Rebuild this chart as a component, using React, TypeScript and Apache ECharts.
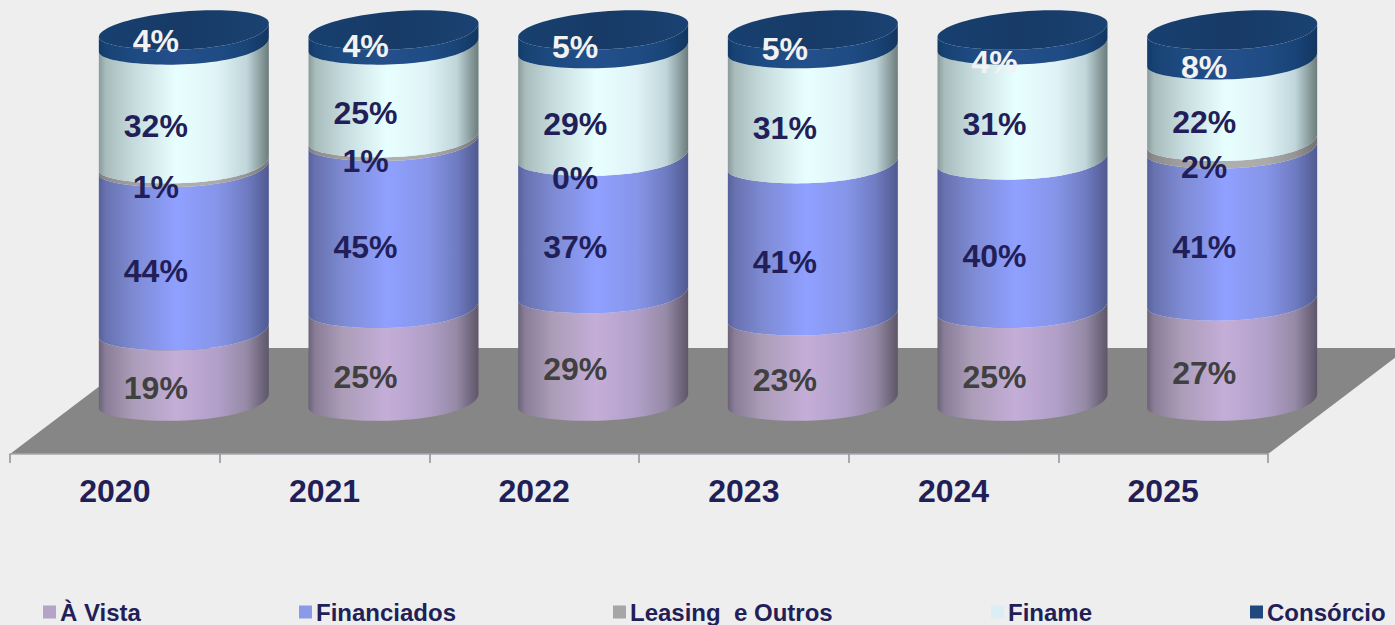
import React, { useEffect, useRef } from "react";
import * as echarts from "echarts";

const years = ["2020", "2021", "2022", "2023", "2024", "2025"];
const aVista = [19, 25, 29, 23, 25, 27];
const financiados = [44, 45, 37, 41, 40, 41];
const leasing = [1, 1, 0, null, null, 2];
const finame = [32, 25, 29, 31, 31, 22];
const consorcio = [4, 4, 5, 5, 4, 8];

// vertical nudges of the white top labels, which sit off their segment centre
const topLabelShift = [-18, -13, -14, -12, 3, 0];

const NAVY = "#221F58";
const FONT = '"Liberation Sans", Arial, sans-serif';
const OFFSETS = [0, 0.04, 0.2, 0.46, 0.7, 0.87, 1];

const seriesDefs = [
  { name: "À Vista", values: aVista, swatch: "#B5A3C8", left: 43, labelColor: "#404040",
    shades: ["#6B6278", "#8A7D98", "#AB9CB8", "#C4AED8", "#B19FC8", "#958AA6", "#5E5668"] },
  { name: "Financiados", values: financiados, swatch: "#8A9AE8", left: 299, labelColor: NAVY,
    shades: ["#55609C", "#6872B0", "#7D8AD2", "#90A0FF", "#8695E8", "#6F7CC2", "#505A90"] },
  { name: "Leasing  e Outros", values: leasing, swatch: "#A6A6A6", left: 613, labelColor: NAVY,
    shades: ["#777777", "#8C8C8C", "#A0A0A0", "#B0B0B0", "#AAAAAA", "#959595", "#707070"] },
  { name: "Finame", values: finame, swatch: "#DAEEF3", left: 991, labelColor: NAVY,
    shades: ["#8A9A9A", "#A8BCBC", "#C5DADC", "#E8FFFF", "#DFF3F6", "#C0D6DA", "#6C7C7C"] },
  { name: "Consórcio", values: consorcio, swatch: "#1F497D", left: 1250, labelColor: "#F2F2F2",
    shades: ["#123A66", "#174274", "#1D4A80", "#244F8C", "#1F4C84", "#194478", "#123660"] },
];

const fillOf = (shades: string[]) => ({
  type: "linear", x: 0, y: 0, x2: 1, y2: 0,
  colorStops: shades.map((color, i) => ({ offset: OFFSETS[i], color })),
});

const CAP_FILL = {
  type: "linear", x: 0, y: 0, x2: 1, y2: 0,
  colorStops: [
    { offset: 0, color: "#174070" },
    { offset: 0.5, color: "#173A66" },
    { offset: 1, color: "#1A4272" },
  ],
};

// cylinder geometry, relative to the category band
const SHIFT_X = 69;
const RX = 85;
const RY_BACK = 18.5;
const RY_FRONT = 19.5;
const RY_SKEW = 3.5;
const TILT = 7;
const LABEL_SHIFT_X = 41;
const LABEL_DROP = 22;
const STEPS = 48;
// the floor's front edge (the category axis) lies below the cylinders' base
const AXIS_VALUE = -14.2857;

const rimPoint = (cx: number, cy: number, t: number) => {
  const c = Math.cos(t);
  const s = Math.sin(t);
  const ry = s > 0 ? RY_FRONT + RY_SKEW * c : RY_BACK;
  return [cx + RX * c, cy - TILT * c + ry * s];
};

const frontArc = (cx: number, cy: number, reverse: boolean) => {
  const pts: number[][] = [];
  for (let i = 0; i <= STEPS; i++) {
    const k = reverse ? STEPS - i : i;
    pts.push(rimPoint(cx, cy, (Math.PI * k) / STEPS));
  }
  return pts;
};

const fullRim = (cx: number, cy: number) => {
  const pts: number[][] = [];
  for (let i = 0; i < STEPS * 2; i++) pts.push(rimPoint(cx, cy, (Math.PI * i) / STEPS));
  return pts;
};

const buildSeries = (def: (typeof seriesDefs)[number], index: number) => {
  const data = years.map((_, i) => {
    let base = 0;
    for (let s = 0; s < index; s++) base += seriesDefs[s].values[i] ?? 0;
    const v = def.values[i];
    return [i, base, v == null ? base : base + v, v == null ? -1 : v];
  });
  const isTop = index === seriesDefs.length - 1;
  return {
    type: "custom",
    name: def.name,
    itemStyle: { color: def.swatch },
    encode: { x: 0, y: [1, 2] },
    clip: false,
    silent: true,
    data,
    renderItem: (_p: any, api: any) => {
      const i = api.value(0);
      const low = api.coord([i, api.value(1)]);
      const high = api.coord([i, api.value(2)]);
      const shown = api.value(3);
      const cx = low[0] + SHIFT_X;
      const children: any[] = [];
      if (high[1] < low[1]) {
        children.push({
          type: "polygon",
          shape: { points: [...frontArc(cx, low[1], false), ...frontArc(cx, high[1], true)] },
          style: { fill: fillOf(def.shades) },
        });
      }
      if (isTop) {
        children.push({
          type: "polygon",
          shape: { points: fullRim(cx, high[1]) },
          style: { fill: CAP_FILL },
        });
      }
      if (shown >= 0) {
        const midY = (low[1] + high[1]) / 2 + LABEL_DROP + (isTop ? topLabelShift[i] : 0);
        children.push({
          type: "text",
          z2: 50,
          style: {
            text: `${shown}%`,
            x: low[0] + LABEL_SHIFT_X,
            y: midY,
            align: "center",
            verticalAlign: "middle",
            fill: def.labelColor,
            fontFamily: FONT,
            fontWeight: "bold",
            fontSize: 32,
          },
        });
      }
      return { type: "group", children };
    },
  };
};

export default function App() {
  const ref = useRef<HTMLDivElement>(null);
  useEffect(() => {
    document.body.style.margin = "0";
    document.body.style.background = "#EEEEEE";
    const chart = echarts.init(ref.current!, undefined, { renderer: "svg" });
    chart.setOption({
      animation: false,
      backgroundColor: "#EEEEEE",
      grid: { left: 10, right: 127, top: 30, bottom: 171, containLabel: false },
      xAxis: {
        type: "category",
        data: years,
        boundaryGap: true,
        axisLine: { show: true, onZero: false, lineStyle: { color: "#A6A6B0", width: 1.5 } },
        axisTick: { show: true, length: 9, lineStyle: { color: "#8F8F9A", width: 1.5 } },
        axisLabel: {
          color: NAVY,
          fontFamily: FONT,
          fontWeight: "bold",
          fontSize: 32,
          margin: 21,
        },
      },
      yAxis: { type: "value", min: AXIS_VALUE, max: 100, show: false },
      legend: seriesDefs.map((d) => ({
        data: [d.name],
        left: d.left,
        top: 600,
        icon: "rect",
        itemWidth: 13,
        itemHeight: 13,
        itemGap: 0,
        padding: [0, 0, 0, 0],
        selectedMode: false,
        textStyle: {
          color: NAVY,
          fontFamily: FONT,
          fontWeight: "bold",
          fontSize: 24,
          padding: [0, 0, 2, -1],
        },
      })),
      graphic: [
        {
          type: "polygon",
          z: -1,
          silent: true,
          shape: { points: [[10, 454], [1268, 454], [1408, 348], [150, 348]] },
          style: { fill: "#868686" },
        },
      ],
      series: seriesDefs.map(buildSeries),
    });
    return () => chart.dispose();
  }, []);
  return (
    <div
      ref={ref}
      style={{ position: "absolute", left: 0, top: 0, width: 1395, height: 625 }}
    />
  );
}
